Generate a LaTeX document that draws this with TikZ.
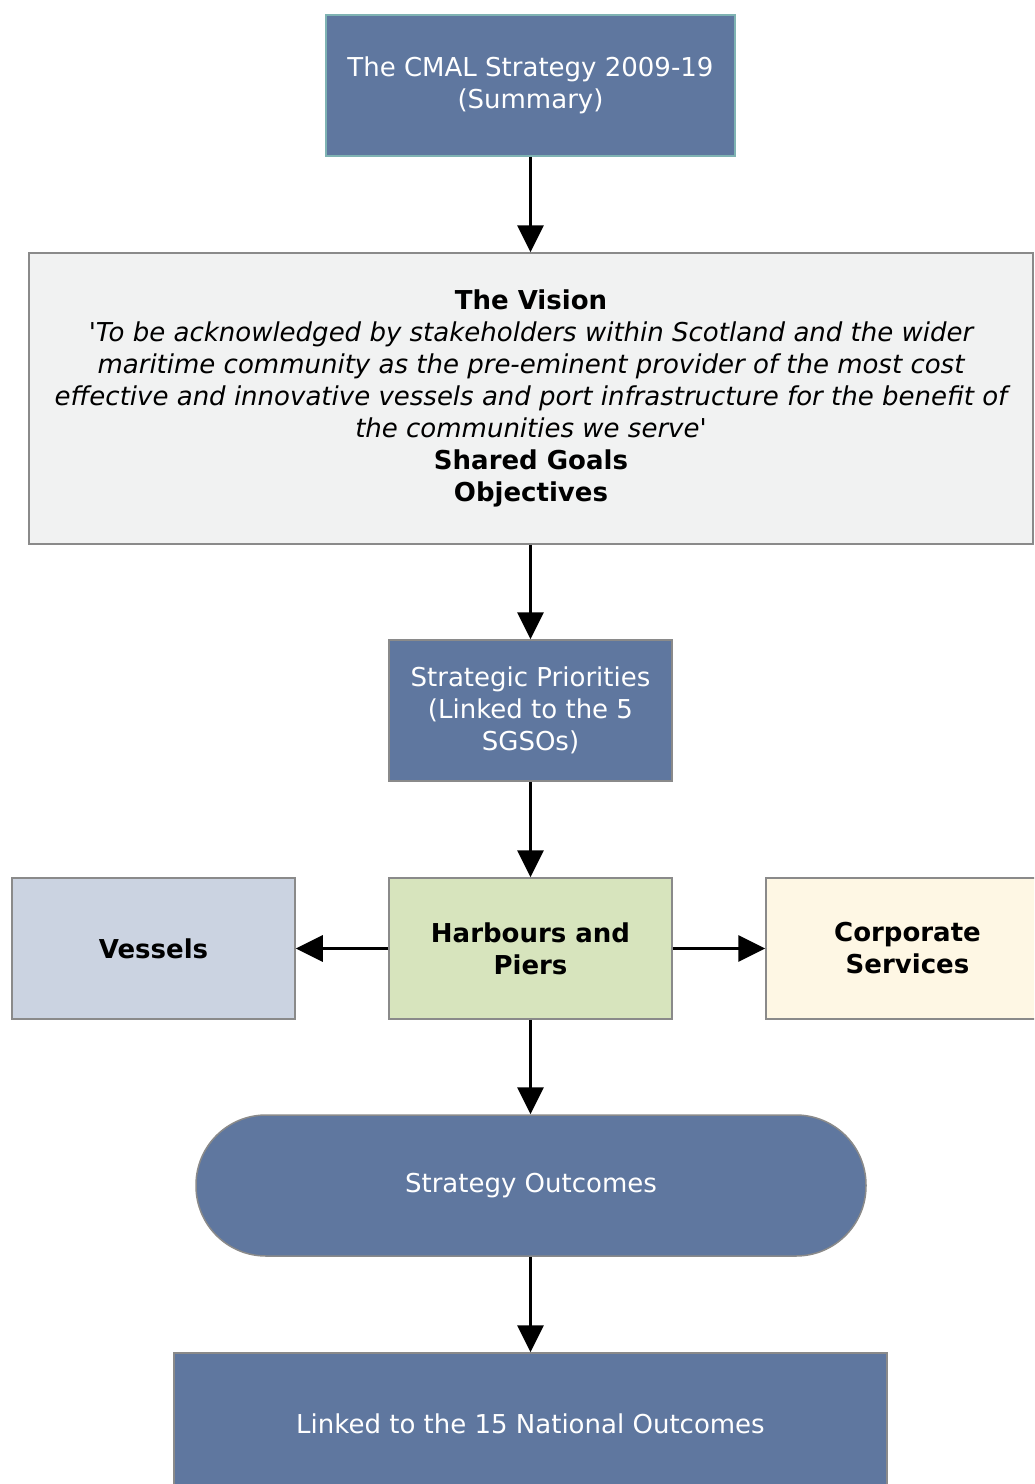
\documentclass[tikz,border=0pt]{standalone}
\usepackage{fontspec}
\setmainfont{DejaVu Sans}[Ligatures=TeXOff]
\usetikzlibrary{arrows.meta}
\definecolor{cblue}{HTML}{5F779F}
\definecolor{cteal}{HTML}{7FB3B3}
\definecolor{cgray}{HTML}{8A8A8A}
\definecolor{cvision}{HTML}{F1F2F2}
\definecolor{cgreen}{HTML}{D7E4BD}
\definecolor{cvessel}{HTML}{CBD3E1}
\definecolor{ccorp}{HTML}{FEF7E4}
\tikzset{
  box/.style={rectangle, draw=cgray, line width=1.5pt, inner sep=0pt, align=center,
    font=\fontsize{26}{32}\selectfont},
  bluebox/.style={box, fill=cblue, text=white},
  lightbox/.style={box, text=black, font=\fontsize{26}{32}\selectfont\bfseries},
  conn/.style={line width=3pt, -{Triangle[length=27pt,width=26pt]}},
}
\begin{document}
\begin{tikzpicture}[x=1pt,y=-1pt]
\useasboundingbox (0,0) rectangle (1034,1484);
\clip (0,0) rectangle (1034,1484);
\fill[white] (0,0) rectangle (1034,1484);

\node[bluebox, draw=cteal, minimum width=409pt, minimum height=141pt] (top) at (530.5,85.5)
  {The CMAL Strategy 2009-19\\(Summary)};

\node[box, fill=cvision, minimum width=1004pt, minimum height=291pt] (vision) at (531,398.5)
  {\textbf{The Vision}\\
   \itshape 'To be acknowledged by stakeholders within Scotland and the wider\\
   \itshape maritime community as the pre-eminent provider of the most cost\\
   \itshape effective and innovative vessels and port infrastructure for the benefit of\\
   \itshape the communities we serve'\\
   \textbf{Shared Goals}\\
   \textbf{Objectives}};

\node[bluebox, minimum width=283pt, minimum height=141pt] (prio) at (530.5,710.5)
  {Strategic Priorities\\(Linked to the 5\\SGSOs)};

\node[lightbox, fill=cgreen, minimum width=283pt, minimum height=141pt] (harb) at (530.5,948.5)
  {Harbours and\\Piers};

\node[lightbox, fill=cvessel, minimum width=283pt, minimum height=141pt] (vess) at (153.5,948.5)
  {Vessels};

\node[lightbox, fill=ccorp, minimum width=283pt, minimum height=141pt] (corp) at (907.5,948.5)
  {Corporate\\Services};

\node[bluebox, rounded corners=70pt, minimum width=670pt, minimum height=141pt] (outc) at (531,1185.5)
  {Strategy Outcomes};

\node[bluebox, minimum width=713pt, minimum height=141pt] (link) at (530.5,1423.5)
  {Linked to the 15 National Outcomes};

\draw[conn] (top.south -| 530.5,0) -- (vision.north -| 530.5,0);
\draw[conn] (vision.south -| 530.5,0) -- (prio.north);
\draw[conn] (prio.south) -- (harb.north);
\draw[conn] (harb.west) -- (vess.east);
\draw[conn] (harb.east) -- (corp.west);
\draw[conn] (harb.south) -- (outc.north -| harb.south);
\draw[conn] (outc.south -| harb.south) -- (link.north);
\end{tikzpicture}
\end{document}
